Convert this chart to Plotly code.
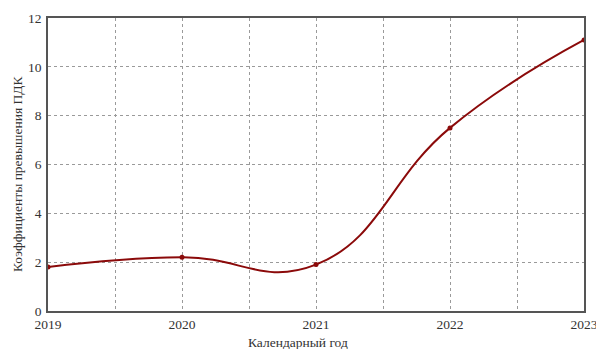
import plotly.graph_objects as go

years = [2019, 2020, 2021, 2022, 2023]
values = [1.8, 2.2, 1.9, 7.5, 11.1]
x_tickvals = [2019, 2019.5, 2020, 2020.5, 2021, 2021.5, 2022, 2022.5, 2023]
x_ticktext = ["2019", "", "2020", "", "2021", "", "2022", "", "2023"]
y_tickvals = [0, 2, 4, 6, 8, 10, 12]
x_title = "Календарный год"
y_title = "Коэффициенты превышения ПДК"

font = "Liberation Serif, Times New Roman, serif"
fsize = 13.5

fig = go.Figure(go.Scatter(
    x=years, y=values, mode="lines+markers",
    line=dict(color="#8b0a0a", width=2, shape="spline", smoothing=1.3),
    marker=dict(color="#8b0a0a", size=5),
))

axis_common = dict(
    showline=True, linecolor="#555555", linewidth=1.5, mirror=True,
    showgrid=True, gridcolor="#9a9a9a", griddash="dot", gridwidth=1,
    ticks="", zeroline=False, automargin=False, ticklabeloverflow="allow",
    tickfont=dict(family=font, size=fsize, color="#333333"),
)

fig.update_layout(
    width=596, height=349,
    margin=dict(l=48, r=12, t=18, b=38),
    paper_bgcolor="white", plot_bgcolor="white",
    showlegend=False,
    font=dict(family=font, size=fsize, color="#333333"),
    xaxis=dict(range=[2019, 2023], tickvals=x_tickvals, ticktext=x_ticktext,
               ticklabelstandoff=0, **axis_common),
    yaxis=dict(range=[0, 12], tickvals=y_tickvals,
               ticklabelstandoff=2, **axis_common),
    annotations=[
        dict(text=x_title, xref="paper", yref="paper", x=0.4664, y=-0.1075,
             xanchor="center", yanchor="middle", showarrow=False,
             font=dict(family=font, size=fsize, color="#333333")),
        dict(text=y_title, xref="paper", yref="paper", x=-0.0569, y=0.466,
             xanchor="center", yanchor="middle", showarrow=False, textangle=-90,
             font=dict(family=font, size=fsize, color="#333333")),
    ],
)

fig.write_html("out.html")
